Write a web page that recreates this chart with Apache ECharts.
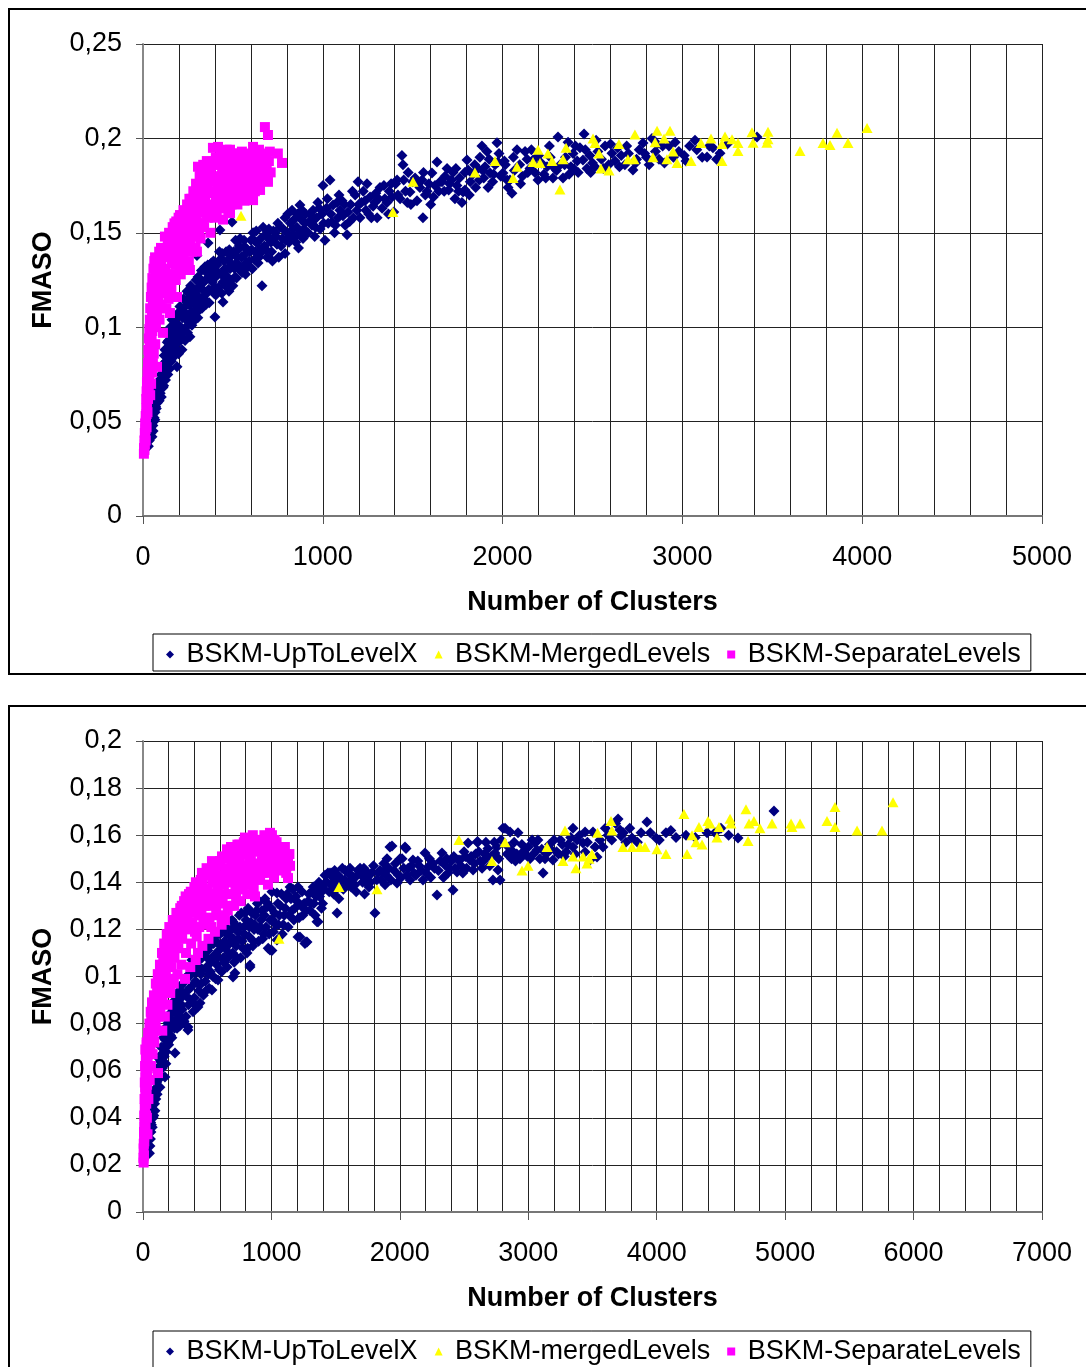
<!DOCTYPE html>
<html>
<head>
<meta charset="utf-8">
<script src="https://cdn.jsdelivr.net/npm/echarts@6/dist/echarts.min.js"></script>
<style>
html,body{margin:0;padding:0;background:#fff;overflow:hidden;}
#chart{width:1086px;height:1367px;}
</style>
</head>
<body>
<div id="chart"></div>
<script>
// ---------- Top chart data ----------
const topNames = ['BSKM-UpToLevelX', 'BSKM-MergedLevels', 'BSKM-SeparateLevels'];
const topUpToLevelX = [[30,0.037],[35,0.040],[38,0.043],[42,0.046],[45,0.044],[50,0.042],[48,0.050],[52,0.053],[55,0.048],[58,0.056],[62,0.052],[67,0.055],[65,0.060],[70,0.058],[72,0.064],[75,0.062],[78,0.067],[83,0.063],[85,0.070],[88,0.066],[92,0.072],[95,0.069],[100,0.075],[105,0.071],[111,0.068],[108,0.080],[115,0.077],[122,0.076],[118,0.085],[122,0.088],[128,0.082],[132,0.079],[135,0.092],[139,0.097],[140,0.086],[145,0.083],[150,0.090],[155,0.095],[160,0.087],[161,0.104],[168,0.099],[172,0.092],[178,0.085],[185,0.097],[189,0.079],[190,0.102],[195,0.1075],[200,0.094],[205,0.111],[210,0.100],[217,0.088],[220,0.105],[225,0.115],[230,0.098],[234,0.093],[234,0.111],[240,0.107],[245,0.119],[250,0.103],[255,0.112],[261,0.095],[261,0.1144],[265,0.122],[270,0.108],[278,0.1197],[285,0.113],[289,0.1038],[295,0.125],[300,0.117],[300,0.138],[306,0.1266],[312,0.109],[318,0.121],[325,0.130],[334,0.116],[338,0.124],[345,0.132],[350,0.112],[356,0.1287],[362,0.1446],[365,0.120],[372,0.126],[380,0.134],[389,0.130],[395,0.118],[400,0.1054],[400,0.1213],[408,0.127],[417,0.129],[428,0.1515],[430,0.136],[440,0.139],[445,0.1133],[445,0.124],[455,0.131],[465,0.127],[473,0.1356],[473,0.125],[484,0.131],[490,0.138],[495,0.1557],[500,0.122],[512,0.1266],[518,0.134],[523,0.137],[528,0.1409],[540,0.147],[545,0.130],[551,0.129],[560,0.138],[567,0.1425],[575,0.134],[584,0.132],[595,0.140],[600,0.146],[612,0.150],[620,0.136],[634,0.1446],[640,0.134],[650,0.141],[662,0.122],[668,0.153],[675,0.143],[690,0.137],[695,0.148],[706,0.146],[715,0.140],[725,0.151],[734,0.150],[745,0.144],[755,0.137],[762,0.153],[775,0.147],[790,0.158],[790,0.139],[800,0.150],[812,0.145],[820,0.155],[829,0.162],[834,0.152],[845,0.148],[856,0.153],[865,0.142],[873,0.1647],[880,0.157],[890,0.147],[895,0.152],[905,0.160],[912,0.150],[918,0.150],[925,0.156],[940,0.154],[946,0.162],[955,0.148],[965,0.158],[973,0.166],[985,0.152],[996,0.160],[1001,0.175],[1012,0.146],[1020,0.163],[1030,0.155],[1040,0.178],[1051,0.1557],[1057,0.1647],[1065,0.150],[1079,0.166],[1085,0.158],[1095,0.162],[1107,0.167],[1112,0.159],[1125,0.154],[1135,0.149],[1140,0.161],[1155,0.165],[1170,0.158],[1180,0.170],[1190,0.162],[1196,0.177],[1207,0.158],[1215,0.166],[1235,0.167],[1246,0.176],[1255,0.160],[1263,0.169],[1280,0.164],[1295,0.171],[1302,0.158],[1318,0.174],[1330,0.163],[1345,0.168],[1357,0.166],[1370,0.172],[1385,0.169],[1395,0.161],[1405,0.176],[1413,0.178],[1418,0.170],[1440,0.191],[1446,0.186],[1460,0.172],[1470,0.166],[1485,0.1716],[1500,0.177],[1513,0.179],[1524,0.167],[1540,0.174],[1552,0.178],[1557,0.158],[1570,0.170],[1590,0.176],[1607,0.1817],[1615,0.169],[1624,0.175],[1635,0.1875],[1652,0.177],[1663,0.177],[1675,0.172],[1691,0.184],[1700,0.1727],[1715,0.178],[1724,0.182],[1735,0.168],[1746,0.175],[1760,0.179],[1774,0.166],[1780,0.1716],[1791,0.1727],[1802,0.1885],[1808,0.1833],[1820,0.177],[1835,0.181],[1850,0.174],[1862,0.184],[1874,0.190],[1885,0.196],[1895,0.179],[1902,0.185],[1913,0.193],[1919,0.174],[1930,0.1817],[1945,0.177],[1958,0.186],[1969,0.1977],[1974,0.1875],[1990,0.180],[2002,0.1817],[2015,0.186],[2030,0.174],[2041,0.178],[2052,0.171],[2065,0.183],[2080,0.194],[2095,0.186],[2110,0.180],[2125,0.193],[2136,0.189],[2152,0.184],[2169,0.1885],[2180,0.182],[2197,0.178],[2215,0.187],[2230,0.181],[2247,0.185],[2265,0.19],[2280,0.179],[2291,0.184],[2308,0.2007],[2320,0.186],[2336,0.179],[2350,0.19],[2364,0.198],[2380,0.185],[2392,0.192],[2397,0.1838],[2415,0.188],[2430,0.195],[2447,0.1885],[2453,0.2023],[2469,0.184],[2485,0.191],[2500,0.187],[2514,0.185],[2530,0.193],[2550,0.189],[2570,0.196],[2590,0.186],[2608,0.1922],[2625,0.188],[2640,0.195],[2660,0.191],[2680,0.186],[2700,0.192],[2725,0.1833],[2745,0.189],[2760,0.194],[2781,0.1975],[2800,0.190],[2815,0.186],[2831,0.200],[2850,0.193],[2870,0.189],[2890,0.196],[2925,0.196],[2950,0.19],[2980,0.193],[3010,0.191],[3040,0.196],[3080,0.194],[3110,0.190],[3137,0.1902],[3170,0.195],[3209,0.1922],[3250,0.197],[3415,0.2007],
[56,0.045],[60,0.050],[66,0.051],[74,0.057],[80,0.060],[90,0.061],[96,0.065],[102,0.063],[110,0.073],[115,0.069],[125,0.072],[130,0.088],[138,0.075],[142,0.093],[148,0.078],[152,0.100],[158,0.082],[165,0.092],[170,0.100],[175,0.089],[182,0.105],[186,0.091],[195,0.098],[198,0.086],[208,0.093],[212,0.108],[215,0.098],[222,0.094],[228,0.108],[238,0.100],[242,0.114],[248,0.097],[252,0.118],[258,0.105],[268,0.115],[272,0.101],[282,0.108],[290,0.118],[296,0.111],[305,0.105],[308,0.121],[315,0.114],[322,0.125],[328,0.110],[332,0.120],[340,0.115],[348,0.125],[355,0.118],[360,0.133],[368,0.113],[375,0.130],[385,0.124],[392,0.135],[398,0.128],[405,0.117],[412,0.133],[420,0.121],[425,0.140],[435,0.128],[438,0.118],[450,0.135],[458,0.122],[462,0.140],[468,0.131],[478,0.119],[480,0.141],[488,0.125],[495,0.133],[505,0.140],[510,0.131],[515,0.146],[520,0.126],[532,0.133],[535,0.143],[548,0.137],[555,0.132],[562,0.146],[570,0.128],[580,0.141],[590,0.135],[605,0.141],[608,0.131],[618,0.146],[625,0.140],[630,0.151],[645,0.137],[655,0.147],[660,0.140],[680,0.149],[685,0.141],[700,0.152],[712,0.145],[720,0.135],[740,0.148],[750,0.155],[768,0.143],[780,0.152],[795,0.146],[805,0.160],[825,0.148],[840,0.157],[850,0.145],[860,0.160],[870,0.150],[885,0.162],[900,0.155],[930,0.160],[950,0.157],[960,0.153],[980,0.163],[1005,0.155],[1025,0.168],[1045,0.160],[1070,0.154],[1090,0.170],[1120,0.165],[1150,0.156],[1165,0.172],[1200,0.165],[1225,0.172],[1240,0.162],[1270,0.158],[1290,0.166],[1310,0.168],[1340,0.175],[1365,0.160],[1380,0.176],[1430,0.168],[1450,0.178],[1475,0.182],[1490,0.165],[1530,0.176],[1560,0.182],[1580,0.172],[1600,0.165],[1645,0.172],[1680,0.180],[1705,0.176],[1740,0.184],[1755,0.172],[1790,0.182],[1815,0.170],[1845,0.186],[1870,0.178],[1890,0.183],[1925,0.189],[1950,0.181],[1980,0.192],[2010,0.188],[2025,0.178],[2060,0.190],[2100,0.176],[2140,0.182],[2160,0.194],[2200,0.191],[2240,0.179],[2260,0.196],[2300,0.183],[2345,0.186],[2370,0.181],[2405,0.196],[2420,0.182],[2460,0.194],[2490,0.182],[2520,0.199],[2560,0.184],[2600,0.197],[2650,0.185],[2690,0.196],[2740,0.187],[2790,0.192],[2860,0.197],[2900,0.187],[2960,0.198],[3020,0.188],[3070,0.199],[3150,0.196],[3190,0.189]];
const topMergedLevels = [[545,0.159],[1390,0.161],[1502,0.177],[1846,0.182],[1958,0.188],[2058,0.179],[2080,0.185],[2169,0.1875],[2197,0.194],[2208,0.187],[2252,0.192],[2275,0.188],[2319,0.173],[2336,0.189],[2353,0.195],[2503,0.200],[2514,0.1975],[2536,0.192],[2547,0.184],[2592,0.183],[2647,0.197],[2697,0.189],[2731,0.189],[2736,0.202],[2836,0.190],[2848,0.198],[2859,0.204],[2898,0.200],[2914,0.189],[2931,0.204],[2948,0.193],[2970,0.187],[3048,0.188],[3103,0.1975],[3159,0.200],[3220,0.197],[3220,0.188],[3237,0.201],[3276,0.1996],[3309,0.1975],[3309,0.1933],[3387,0.2033],[3393,0.1977],[3470,0.1977],[3476,0.2035],[3476,0.1996],[3654,0.1933],[3782,0.1975],[3821,0.1965],[3860,0.203],[3921,0.1975],[4027,0.2055]];
const topSeparateLevels = [[5,0.033],[6,0.036],[8,0.035],[8,0.040],[10,0.038],[10,0.044],[12,0.042],[12,0.049],[14,0.046],[15,0.053],[16,0.050],[18,0.057],[18,0.062],[20,0.054],[20,0.066],[22,0.060],[22,0.071],[24,0.064],[25,0.076],[26,0.069],[28,0.081],[28,0.073],[30,0.088],[30,0.077],[32,0.094],[33,0.083],[35,0.099],[35,0.087],[38,0.104],[38,0.091],[40,0.110],[40,0.064],[42,0.095],[44,0.116],[45,0.070],[46,0.100],[48,0.121],[50,0.076],[50,0.106],[52,0.126],[55,0.111],[55,0.081],[58,0.131],[60,0.117],[60,0.086],[63,0.135],[65,0.121],[67,0.137],[68,0.091],[70,0.126],[72,0.1],[75,0.131],[78,0.079],[78,0.108],[80,0.136],[85,0.114],[85,0.128],[90,0.140],[92,0.104],[95,0.121],[100,0.133],[100,0.142],[105,0.110],[108,0.126],[111,0.097],[115,0.138],[118,0.118],[122,0.148],[125,0.131],[130,0.110],[132,0.142],[135,0.124],[140,0.137],[145,0.150],[150,0.1075],[150,0.128],[155,0.145],[160,0.134],[165,0.153],[170,0.116],[172,0.140],[178,0.148],[182,0.125],[185,0.156],[189,0.116],[190,0.137],[195,0.151],[200,0.144],[206,0.1594],[210,0.128],[215,0.152],[220,0.140],[225,0.162],[230,0.147],[235,0.133],[240,0.157],[245,0.165],[250,0.144],[255,0.160],[261,0.1303],[262,0.152],[268,0.168],[272,0.140],[275,0.157],[280,0.172],[285,0.148],[290,0.163],[295,0.176],[300,0.140],[305,0.155],[306,0.185],[310,0.169],[315,0.180],[320,0.147],[325,0.161],[330,0.174],[335,0.186],[340,0.153],[345,0.167],[350,0.179],[355,0.188],[360,0.158],[365,0.171],[370,0.182],[375,0.150],[380,0.164],[385,0.177],[389,0.195],[395,0.186],[400,0.158],[405,0.170],[412,0.188],[417,0.1955],[420,0.180],[425,0.163],[430,0.174],[435,0.191],[440,0.184],[445,0.157],[450,0.168],[455,0.178],[460,0.189],[465,0.194],[470,0.172],[475,0.161],[480,0.183],[484,0.194],[484,0.1604],[490,0.177],[495,0.188],[500,0.168],[505,0.192],[510,0.180],[515,0.173],[520,0.186],[525,0.165],[530,0.191],[535,0.178],[540,0.184],[545,0.170],[550,0.193],[555,0.176],[560,0.187],[565,0.167],[570,0.181],[575,0.190],[580,0.174],[585,0.185],[590,0.192],[595,0.179],[600,0.169],[605,0.188],[612,0.1955],[612,0.1673],[618,0.182],[625,0.177],[630,0.190],[635,0.186],[640,0.173],[645,0.194],[650,0.181],[651,0.1727],[655,0.188],[660,0.178],[665,0.192],[670,0.185],[678,0.206],[680,0.183],[685,0.190],[695,0.2018],[695,0.177],[700,0.188],[705,0.193],[710,0.182],[750,0.192],[773,0.187],
[15,0.040],[20,0.047],[25,0.055],[28,0.062],[32,0.068],[36,0.074],[42,0.082],[45,0.088],[48,0.093],[52,0.098],[56,0.103],[60,0.108],[64,0.113],[68,0.118],[72,0.123],[76,0.128],[82,0.132],[88,0.125],[95,0.112],[98,0.135],[105,0.139],[112,0.130],[120,0.140],[128,0.120],[138,0.145],[142,0.115],[148,0.140],[158,0.120],[162,0.147],[168,0.128],[175,0.155],[180,0.133],[192,0.145],[198,0.158],[205,0.132],[212,0.146],[218,0.157],[225,0.138],[232,0.155],[238,0.144],[248,0.152],[255,0.135],[258,0.168],[265,0.145],[270,0.160],[278,0.150],[285,0.165],[292,0.142],[298,0.158],[302,0.175],[312,0.150],[318,0.165],[322,0.183],[330,0.155],[338,0.170],[345,0.180],[352,0.160],[358,0.175],[362,0.187],[368,0.163],[378,0.185],[382,0.172],[392,0.165],[398,0.179],[405,0.190],[410,0.160],[415,0.176],[422,0.186],[428,0.169],[438,0.178],[442,0.165],[448,0.186],[452,0.174],[458,0.163],[462,0.182],[468,0.190],[472,0.178],[478,0.170],[488,0.186],[492,0.165],[498,0.180],[502,0.174],[508,0.186],[512,0.168],[518,0.192],[522,0.179],[528,0.172],[532,0.185],[538,0.190],[542,0.176],[548,0.182],[552,0.170],[558,0.190],[562,0.180],[568,0.188],[572,0.175],[578,0.184],[582,0.168],[588,0.179],[592,0.186],[598,0.175],[602,0.182],[608,0.176],[615,0.189],[622,0.172],[628,0.183],[632,0.178],[638,0.186],[642,0.180],[648,0.176],[658,0.184],[662,0.188],[668,0.178],[672,0.190],[688,0.184],[692,0.178]];

// ---------- Bottom chart data ----------
const botNames = ['BSKM-UpToLevelX', 'BSKM-mergedLevels', 'BSKM-SeparateLevels'];
const botUpToLevelX = [[50,0.025],[54,0.028],[58,0.031],[62,0.034],[65,0.037],[70,0.040],[72,0.036],[75,0.043],[80,0.046],[84,0.041],[88,0.049],[93,0.043],[95,0.052],[100,0.048],[105,0.055],[110,0.050],[115,0.058],[120,0.053],[125,0.061],[132,0.053],[135,0.064],[140,0.058],[145,0.067],[150,0.061],[156,0.0633],[160,0.070],[165,0.066],[171,0.0573],[175,0.073],[180,0.068],[188,0.076],[195,0.0803],[200,0.071],[210,0.079],[218,0.084],[225,0.074],[234,0.0887],[240,0.080],[249,0.0675],[249,0.090],[255,0.085],[265,0.078],[275,0.092],[288,0.0943],[290,0.083],[300,0.088],[310,0.097],[320,0.081],[330,0.092],[340,0.100],[350,0.0773],[350,0.0786],[355,0.088],[365,0.095],[375,0.103],[382,0.104],[381,0.107],[390,0.085],[400,0.091],[410,0.098],[420,0.106],[428,0.087],[435,0.094],[444,0.0887],[450,0.101],[460,0.108],[470,0.092],[483,0.1134],[485,0.098],[495,0.104],[505,0.111],[515,0.095],[525,0.102],[537,0.0943],[540,0.108],[550,0.114],[561,0.117],[565,0.099],[575,0.105],[584,0.0985],[590,0.111],[600,0.118],[612,0.102],[625,0.108],[635,0.115],[645,0.121],[655,0.104],[668,0.110],[680,0.117],[693,0.124],[701,0.0998],[701,0.1232],[710,0.106],[716,0.1015],[725,0.113],[738,0.119],[750,0.126],[760,0.108],[772,0.115],[785,0.121],[795,0.127],[810,0.110],[818,0.129],[825,0.117],[833,0.104],[833,0.1049],[840,0.123],[855,0.113],[865,0.120],[875,0.126],[890,0.131],[900,0.115],[912,0.121],[925,0.128],[940,0.118],[950,0.133],[965,0.1295],[975,0.112],[989,0.1113],[990,0.124],[1004,0.136],[1004,0.111],[1015,0.119],[1025,0.127],[1043,0.1355],[1043,0.1155],[1055,0.122],[1070,0.130],[1085,0.118],[1100,0.126],[1115,0.133],[1130,0.121],[1145,0.138],[1160,0.128],[1175,0.124],[1190,0.134],[1207,0.138],[1207,0.1168],[1222,0.1168],[1230,0.130],[1245,0.126],[1261,0.114],[1269,0.1146],[1277,0.1146],[1285,0.132],[1300,0.128],[1315,0.136],[1330,0.131],[1355,0.138],[1355,0.1232],[1363,0.1232],[1375,0.134],[1390,0.129],[1405,0.139],[1417,0.143],[1440,0.144],[1456,0.144],[1471,0.144],[1485,0.135],[1500,0.140],[1511,0.127],[1525,0.133],[1545,0.141],[1560,0.137],[1575,0.145],[1596,0.144],[1604,0.144],[1620,0.138],[1640,0.142],[1660,0.136],[1675,0.145],[1690,0.146],[1710,0.140],[1725,0.135],[1744,0.142],[1760,0.138],[1780,0.144],[1806,0.127],[1820,0.141],[1845,0.145],[1869,0.1444],[1885,0.139],[1900,0.150],[1923,0.155],[1939,0.1554],[1955,0.145],[1978,0.1397],[1990,0.143],[2001,0.150],[2017,0.150],[2040,0.155],[2048,0.1544],[2065,0.146],[2080,0.141],[2102,0.1495],[2125,0.143],[2150,0.147],[2180,0.141],[2196,0.1524],[2219,0.1465],[2240,0.142],[2258,0.148],[2289,0.1346],[2300,0.145],[2328,0.1524],[2351,0.1473],[2375,0.144],[2400,0.149],[2414,0.1367],[2430,0.146],[2445,0.1444],[2453,0.1495],[2468,0.1495],[2490,0.144],[2510,0.151],[2531,0.1567],[2546,0.1495],[2570,0.1452],[2590,0.152],[2601,0.1571],[2608,0.1571],[2625,0.149],[2640,0.146],[2660,0.152],[2678,0.1507],[2686,0.1544],[2700,0.147],[2725,0.141],[2741,0.1524],[2756,0.155],[2764,0.1452],[2780,0.141],[2803,0.163],[2819,0.163],[2835,0.152],[2858,0.1614],[2881,0.153],[2900,0.149],[2920,0.161],[2935,0.150],[2950,0.156],[2975,0.152],[3013,0.150],[3030,0.158],[3052,0.1567],[3068,0.1537],[3090,0.150],[3115,0.144],[3140,0.152],[3165,0.156],[3192,0.1495],[3220,0.153],[3250,0.158],[3280,0.151],[3310,0.156],[3348,0.163],[3348,0.155],[3380,0.158],[3426,0.1567],[3442,0.1614],[3442,0.1529],[3481,0.1495],[3504,0.1614],[3535,0.1507],[3558,0.158],[3582,0.155],[3620,0.160],[3699,0.1669],[3714,0.1622],[3722,0.1597],[3760,0.157],[3808,0.1588],[3878,0.161],[3924,0.1656],[3995,0.1588],[4072,0.161],[4150,0.159],[4228,0.160],[4392,0.161],[4454,0.161],[4633,0.1588],[4913,0.1703],
[60,0.038],[68,0.043],[78,0.040],[82,0.051],[90,0.046],[98,0.056],[108,0.053],[112,0.061],[118,0.056],[128,0.065],[138,0.061],[142,0.070],[152,0.066],[158,0.074],[168,0.070],[172,0.078],[178,0.063],[185,0.082],[192,0.072],[198,0.077],[205,0.084],[215,0.075],[222,0.088],[230,0.081],[238,0.086],[245,0.078],[258,0.092],[262,0.082],[270,0.087],[280,0.090],[285,0.079],[295,0.096],[305,0.086],[315,0.092],[325,0.099],[335,0.083],[345,0.094],[360,0.100],[370,0.090],[380,0.096],[395,0.102],[405,0.088],[415,0.102],[425,0.097],[440,0.104],[455,0.097],[465,0.103],[475,0.110],[490,0.094],[500,0.108],[510,0.101],[520,0.113],[530,0.106],[545,0.100],[555,0.109],[570,0.115],[580,0.108],[595,0.103],[605,0.113],[618,0.119],[630,0.106],[640,0.112],[650,0.118],[662,0.108],[675,0.114],[688,0.120],[698,0.110],[705,0.116],[720,0.122],[732,0.108],[745,0.116],[755,0.121],[765,0.127],[778,0.112],[790,0.118],[802,0.124],[815,0.112],[828,0.121],[848,0.127],[860,0.115],[870,0.122],[885,0.128],[895,0.120],[905,0.132],[920,0.124],[932,0.116],[945,0.126],[958,0.121],[970,0.131],[982,0.118],[998,0.129],[1010,0.124],[1035,0.122],[1050,0.131],[1062,0.126],[1078,0.135],[1092,0.122],[1108,0.129],[1122,0.135],[1138,0.126],[1152,0.133],[1168,0.137],[1182,0.129],[1198,0.132],[1215,0.125],[1238,0.136],[1255,0.131],[1270,0.128],[1292,0.135],[1308,0.131],[1325,0.138],[1340,0.126],[1348,0.134],[1370,0.140],[1385,0.136],[1398,0.131],[1412,0.137],[1430,0.140],[1450,0.136],[1465,0.139],[1478,0.142],[1492,0.145],[1505,0.137],[1520,0.143],[1535,0.138],[1552,0.146],[1568,0.141],[1585,0.140],[1612,0.146],[1630,0.141],[1650,0.139],[1668,0.143],[1700,0.143],[1720,0.146],[1735,0.140],[1752,0.144],[1770,0.140],[1795,0.147],[1830,0.144],[1855,0.141],[1875,0.148],[1895,0.143],[1915,0.146],[1930,0.141],[1965,0.148],[2010,0.142],[2030,0.146],[2055,0.143],[2090,0.147],[2110,0.144],[2140,0.149],[2165,0.145],[2205,0.144],[2230,0.150],[2270,0.146],[2315,0.149],[2340,0.142],[2365,0.150],[2385,0.146],[2420,0.151],[2475,0.147],[2500,0.153],[2520,0.146],[2555,0.151],[2580,0.148],[2615,0.153],[2650,0.149],[2670,0.157],[2710,0.151],[2735,0.157],[2770,0.150],[2790,0.158],[2845,0.155],[2870,0.150],[2890,0.157],[2910,0.152],[2960,0.153],[3000,0.155],[3040,0.152],[3075,0.158],[3105,0.154],[3130,0.150],[3175,0.154],[3200,0.158],[3235,0.152],[3265,0.156],[3295,0.153],[3330,0.159],[3365,0.152],[3400,0.160],[3460,0.157],[3520,0.155],[3600,0.163],[3650,0.158],[3680,0.165],[3740,0.161],[3790,0.163],[3850,0.157],[3950,0.161],[4020,0.158],[4110,0.162],[4300,0.159],[4500,0.163],[4560,0.160]];
const botMergedLevels = [[1059,0.116],[1526,0.138],[1822,0.137],[2460,0.158],[2717,0.149],[2819,0.157],[2951,0.145],[2998,0.147],[3146,0.155],[3270,0.149],[3286,0.162],[3348,0.151],[3371,0.146],[3426,0.151],[3457,0.148],[3473,0.150],[3496,0.152],[3539,0.161],[3644,0.166],[3652,0.162],[3737,0.155],[3808,0.155],[3870,0.155],[3909,0.155],[4002,0.154],[4072,0.152],[4212,0.169],[4236,0.152],[4275,0.160],[4306,0.157],[4329,0.1635],[4353,0.156],[4399,0.166],[4415,0.165],[4469,0.159],[4485,0.1635],[4571,0.167],[4578,0.165],[4695,0.171],[4711,0.1575],[4719,0.165],[4757,0.166],[4804,0.163],[4898,0.165],[5046,0.165],[5053,0.1635],[5116,0.165],[5326,0.166],[5388,0.172],[5388,0.1635],[5560,0.162],[5754,0.162],[5840,0.174]];
const botSeparateLevels = [[5,0.021],[8,0.024],[5,0.027],[10,0.030],[8,0.034],[12,0.037],[10,0.041],[15,0.044],[12,0.048],[18,0.051],[14,0.055],[20,0.058],[16,0.062],[22,0.065],[18,0.069],[25,0.046],[30,0.040],[35,0.033],[28,0.072],[32,0.054],[38,0.061],[40,0.076],[42,0.048],[45,0.068],[50,0.080],[52,0.056],[55,0.073],[60,0.085],[62,0.062],[66,0.077],[70,0.089],[75,0.067],[78,0.082],[85,0.092],[88,0.072],[92,0.086],[100,0.097],[102,0.077],[108,0.090],[115,0.101],[117,0.059],[120,0.083],[125,0.094],[132,0.105],[135,0.087],[140,0.098],[148,0.110],[150,0.077],[152,0.091],[160,0.102],[165,0.114],[170,0.083],[172,0.095],[180,0.106],[185,0.118],[190,0.088],[195,0.099],[200,0.111],[205,0.121],[212,0.093],[218,0.104],[225,0.115],[232,0.124],[240,0.097],[245,0.108],[252,0.119],[260,0.127],[268,0.101],[275,0.112],[282,0.122],[290,0.129],[298,0.105],[305,0.116],[312,0.125],[320,0.132],[327,0.099],[335,0.110],[342,0.120],[350,0.128],[358,0.135],[368,0.104],[375,0.114],[385,0.123],[392,0.131],[400,0.138],[410,0.107],[418,0.117],[428,0.110],[435,0.126],[442,0.134],[450,0.141],[459,0.144],[462,0.113],[470,0.122],[480,0.130],[490,0.137],[500,0.143],[510,0.116],[518,0.125],[528,0.133],[537,0.149],[540,0.140],[550,0.146],[560,0.119],[570,0.128],[580,0.136],[590,0.143],[600,0.149],[612,0.122],[620,0.131],[630,0.139],[638,0.124],[645,0.146],[654,0.154],[660,0.128],[670,0.135],[680,0.142],[690,0.149],[700,0.153],[710,0.130],[720,0.138],[730,0.145],[740,0.151],[750,0.156],[760,0.132],[770,0.140],[780,0.147],[794,0.159],[800,0.152],[812,0.135],[820,0.143],[832,0.150],[845,0.156],[855,0.160],[862,0.138],[872,0.134],[880,0.146],[890,0.153],[900,0.158],[912,0.141],[925,0.149],[935,0.155],[945,0.160],[958,0.144],[968,0.151],[973,0.139],[980,0.157],[989,0.161],[995,0.148],[1004,0.160],[1012,0.154],[1020,0.142],[1030,0.151],[1040,0.157],[1050,0.155],[1060,0.146],[1075,0.152],[1090,0.149],[1105,0.155],[1115,0.144],[1129,0.150],[1129,0.1418],[1145,0.147],
[3,0.023],[6,0.029],[9,0.032],[11,0.036],[13,0.040],[14,0.044],[16,0.048],[17,0.053],[19,0.057],[21,0.061],[24,0.064],[27,0.068],[30,0.071],[20,0.036],[24,0.041],[28,0.050],[33,0.057],[36,0.066],[44,0.074],[48,0.062],[58,0.070],[64,0.082],[70,0.078],[80,0.087],[82,0.075],[95,0.091],[98,0.081],[110,0.095],[112,0.085],[128,0.099],[130,0.090],[142,0.104],[145,0.094],[158,0.108],[162,0.097],[175,0.111],[178,0.100],[192,0.115],[195,0.105],[210,0.117],[215,0.108],[228,0.120],[235,0.111],[248,0.124],[255,0.114],[265,0.121],[272,0.126],[285,0.117],[295,0.124],[302,0.130],[318,0.121],[325,0.128],[332,0.134],[345,0.124],[352,0.131],[362,0.121],[372,0.136],[380,0.127],[395,0.134],[405,0.119],[412,0.140],[425,0.130],[438,0.121],[445,0.137],[455,0.127],[465,0.140],[475,0.134],[485,0.124],[495,0.146],[505,0.137],[515,0.130],[525,0.144],[532,0.121],[545,0.135],[555,0.142],[565,0.131],[575,0.147],[585,0.126],[595,0.140],[605,0.133],[615,0.151],[625,0.143],[635,0.135],[648,0.140],[665,0.150],[675,0.130],[685,0.155],[695,0.140],[705,0.145],[715,0.151],[725,0.134],[735,0.156],[745,0.141],[755,0.148],[765,0.153],[775,0.137],[785,0.157],[790,0.143],[805,0.146],[815,0.155],[825,0.139],[840,0.149],[850,0.144],[865,0.154],[875,0.142],[885,0.158],[895,0.148],[905,0.145],[918,0.156],[930,0.144],[940,0.152],[950,0.158],[962,0.147],[975,0.155],[985,0.145],[998,0.153],[1008,0.146],[1025,0.158],[1035,0.147],[1045,0.152],[1065,0.150],[1080,0.145],[1098,0.153],[1120,0.147],[1140,0.152]];

// ---------- Axis settings ----------
const topXMax = 5000, topYMax = 0.25, topYStep = 0.05;
const botXMax = 7000, botYMax = 0.2, botYStep = 0.02;
const xStep = 1000;
const legendIcons = ['diamond', 'triangle', 'rect'];

const FONT = "'Liberation Sans', Arial, sans-serif";
const fmtY = v => String(+(+v).toFixed(4)).replace('.', ',');
const fmtX = v => String(Math.round(v));

function xAxisCfg(gridIndex, max) {
  return {
    type: 'value', gridIndex, min: 0, max, interval: xStep,
    name: 'Number of Clusters', nameLocation: 'middle', nameGap: 73,
    nameTextStyle: { fontFamily: FONT, fontSize: 27, fontWeight: 'bold', color: '#000' },
    axisLine: { show: true, onZero: false, lineStyle: { color: '#777', width: 2 } },
    axisTick: { show: true, inside: false, length: 8, lineStyle: { color: '#555', width: 1 } },
    axisLabel: { margin: 28, fontFamily: FONT, fontSize: 27, color: '#000', formatter: fmtX, showMinLabel: true, showMaxLabel: true },
    splitLine: { show: true, lineStyle: { color: '#222', width: 1 } },
    minorTick: { show: false, splitNumber: 5 },
    minorSplitLine: { show: true, lineStyle: { color: '#222', width: 1 } }
  };
}
function yAxisCfg(gridIndex, max, step) {
  return {
    type: 'value', gridIndex, min: 0, max, interval: step,
    name: 'FMASO', nameLocation: 'middle', nameGap: 86, nameRotate: 90,
    nameTextStyle: { fontFamily: FONT, fontSize: 27, fontWeight: 'bold', color: '#000' },
    axisLine: { show: true, onZero: false, lineStyle: { color: '#888', width: 2 } },
    axisTick: { show: true, inside: false, length: 7, lineStyle: { color: '#555', width: 1 } },
    axisLabel: { margin: 21, fontFamily: FONT, fontSize: 27, color: '#000', formatter: fmtY, padding: [3, 0, 0, 0] },
    splitLine: { show: true, lineStyle: { color: '#222', width: 1 } }
  };
}
function legendCfg(names, top) {
  return {
    data: names.map((n, i) => ({ name: n, icon: legendIcons[i] })),
    left: 153, top, orient: 'horizontal',
    padding: [6, 10, 2, 13], itemGap: 17, itemWidth: 8, itemHeight: 8,
    borderColor: '#000', borderWidth: 1, backgroundColor: '#fff',
    formatter: n => ' ' + n,
    textStyle: { fontFamily: FONT, fontSize: 27, color: '#000', lineHeight: 29 },
    selectedMode: false
  };
}
function scatter(name, data, idx, symbol, size, color) {
  return {
    type: 'scatter', name, data, xAxisIndex: idx, yAxisIndex: idx,
    symbol, symbolSize: size, itemStyle: { color, opacity: 1 },
    emphasis: { disabled: true }, silent: true, large: false
  };
}

const chart = echarts.init(document.getElementById('chart'), null, { renderer: 'canvas' });
chart.setOption({
  animation: false,
  backgroundColor: '#fff',
  textStyle: { fontFamily: FONT },
  graphic: [
    { type: 'rect', z: -10, shape: { x: 9, y: 9, width: 1100, height: 665 }, style: { fill: '#fff', stroke: '#000', lineWidth: 2 } },
    { type: 'rect', z: -10, shape: { x: 9, y: 706, width: 1100, height: 700 }, style: { fill: '#fff', stroke: '#000', lineWidth: 2 } }
  ],
  grid: [
    { left: 143, top: 44, width: 899, height: 472, containLabel: false },
    { left: 143, top: 741, width: 899, height: 471, containLabel: false }
  ],
  xAxis: [xAxisCfg(0, topXMax), xAxisCfg(1, botXMax)],
  yAxis: [yAxisCfg(0, topYMax, topYStep), yAxisCfg(1, botYMax, botYStep)],
  legend: [legendCfg(topNames, 634), legendCfg(botNames, 1331)],
  series: [
    scatter(topNames[0], topUpToLevelX, 0, 'diamond', 11, '#000080'),
    scatter(topNames[1], topMergedLevels, 0, 'triangle', [11, 10], '#FFFF00'),
    scatter(topNames[2], topSeparateLevels, 0, 'rect', 10, '#FF00FF'),
    scatter(botNames[0], botUpToLevelX, 1, 'diamond', 11, '#000080'),
    scatter(botNames[1], botMergedLevels, 1, 'triangle', [11, 10], '#FFFF00'),
    scatter(botNames[2], botSeparateLevels, 1, 'rect', 10, '#FF00FF')
  ]
});
</script>
</body>
</html>
